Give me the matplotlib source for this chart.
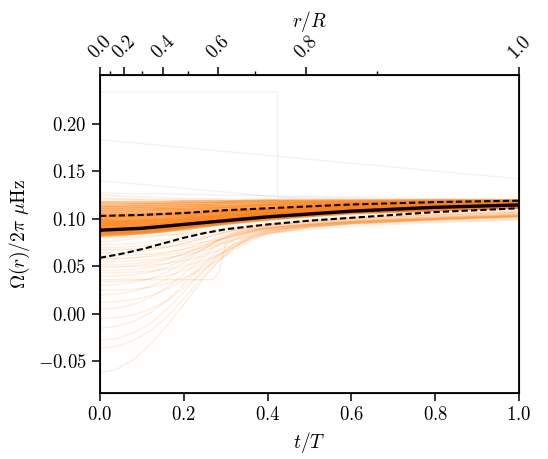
import numpy as np
import matplotlib
matplotlib.use('Agg')
import matplotlib.pyplot as plt

plt.rcParams['font.family'] = 'serif'
plt.rcParams['font.serif'] = ['cmr10']
plt.rcParams['mathtext.fontset'] = 'cm'
plt.rcParams['axes.formatter.use_mathtext'] = True
plt.rcParams['font.size'] = 13

# acoustic radius grid the profiles are sampled on
t_knots = [0.0, 0.05, 0.1, 0.15, 0.2, 0.25, 0.3, 0.4, 0.5, 0.6, 0.8, 1.0]
t_fine = [0.0, 0.04, 0.08, 0.12, 0.16, 0.2, 0.24, 0.28, 0.32, 0.36, 0.4, 0.5, 0.6, 0.8, 1.0]

# posterior sample profiles, Omega/2pi in muHz
core_samples = [
    [.117, .117, .117, .117, .118, .118, .118, .119, .119, .119, .119, .119],
    [.114, .114, .115, .115, .116, .116, .117, .118, .118, .118, .119, .119],
    [.112, .112, .113, .113, .114, .114, .115, .116, .117, .117, .118, .118],
    [.110, .110, .111, .111, .112, .113, .113, .115, .116, .116, .117, .118],
    [.108, .108, .109, .110, .110, .111, .112, .114, .115, .116, .117, .117],
    [.106, .106, .107, .108, .109, .110, .111, .113, .114, .115, .116, .117],
    [.104, .104, .105, .106, .107, .108, .109, .111, .113, .114, .116, .117],
    [.103, .103, .104, .105, .106, .107, .108, .110, .112, .113, .115, .116],
    [.102, .102, .103, .104, .105, .106, .108, .110, .112, .114, .116, .117],
    [.100, .101, .102, .103, .104, .106, .107, .110, .111, .113, .115, .116],
    [.099, .099, .100, .101, .103, .104, .106, .109, .111, .112, .114, .116],
    [.098, .098, .099, .100, .102, .103, .105, .108, .110, .112, .114, .115],
    [.097, .097, .098, .099, .100, .102, .104, .107, .109, .111, .114, .115],
    [.096, .096, .097, .098, .100, .101, .103, .106, .109, .111, .113, .115],
    [.095, .095, .096, .097, .099, .101, .103, .106, .108, .110, .113, .115],
    [.094, .094, .095, .096, .098, .100, .102, .105, .108, .110, .113, .115],
    [.093, .093, .094, .095, .097, .099, .101, .105, .108, .110, .112, .114],
    [.092, .092, .093, .094, .096, .098, .100, .104, .107, .109, .112, .114],
    [.091, .091, .092, .094, .096, .098, .100, .104, .106, .108, .111, .113],
    [.090, .090, .091, .093, .095, .097, .099, .103, .106, .108, .111, .113],
    [.089, .089, .090, .092, .094, .096, .099, .103, .106, .109, .112, .114],
    [.088, .088, .089, .091, .093, .096, .098, .102, .105, .108, .111, .114],
    [.087, .087, .089, .090, .092, .095, .097, .102, .105, .107, .110, .112],
    [.086, .086, .088, .090, .092, .094, .097, .101, .104, .107, .110, .113],
    [.085, .086, .087, .089, .091, .094, .096, .101, .104, .107, .110, .112],
    [.084, .085, .086, .088, .091, .093, .096, .100, .103, .106, .109, .112],
    [.083, .084, .085, .087, .090, .093, .095, .100, .104, .107, .110, .113],
    [.082, .083, .085, .087, .089, .092, .095, .099, .103, .106, .109, .112],
]

faint_high = [
    [.122, .121, .120, .120, .119, .119, .119, .119, .119, .119, .119, .119],
    [.125, .124, .123, .122, .121, .121, .120, .120, .120, .120, .120, .120],
    [.120, .120, .120, .119, .119, .119, .119, .119, .119, .119, .119, .119],
]

low_samples = [
    [.076, .077, .079, .081, .083, .085, .087, .089, .091, .093, .095, .099, .102, .106, .109],
    [.073, .073, .074, .076, .078, .081, .084, .087, .090, .092, .094, .098, .101, .105, .108],
    [.070, .070, .071, .072, .074, .077, .080, .084, .088, .091, .093, .097, .100, .104, .107],
    [.067, .067, .068, .069, .071, .074, .078, .083, .087, .090, .092, .096, .099, .103, .106],
    [.064, .064, .065, .067, .070, .074, .079, .084, .088, .091, .093, .097, .100, .104, .107],
    [.061, .061, .062, .063, .065, .068, .072, .077, .082, .086, .089, .094, .098, .102, .105],
    [.058, .058, .059, .061, .064, .068, .074, .080, .085, .089, .091, .095, .098, .102, .105],
    [.055, .055, .056, .057, .059, .062, .066, .071, .077, .083, .087, .093, .097, .101, .104],
    [.052, .052, .053, .055, .058, .063, .070, .078, .085, .089, .091, .095, .098, .102, .105],
    [.049, .049, .050, .051, .053, .056, .060, .066, .073, .080, .085, .092, .096, .100, .103],
    [.046, .046, .047, .049, .053, .059, .067, .076, .083, .087, .090, .094, .097, .101, .104],
    [.043, .043, .044, .045, .047, .050, .055, .062, .070, .078, .084, .091, .095, .099, .102],
    [.040, .040, .041, .044, .049, .057, .067, .077, .084, .088, .090, .094, .097, .101, .104],
    [.034, .034, .035, .037, .040, .045, .052, .061, .071, .079, .085, .091, .095, .099, .102],
    [.030, .031, .033, .037, .044, .054, .066, .077, .084, .088, .090, .094, .097, .101, .104],
    [.025, .025, .026, .028, .032, .038, .046, .056, .067, .077, .084, .091, .095, .099, .102],
    [.020, .021, .024, .029, .037, .048, .061, .073, .082, .087, .090, .094, .097, .100, .103],
    [.012, .013, .015, .019, .026, .036, .048, .061, .073, .082, .087, .093, .096, .100, .103],
    [.005, .006, .010, .017, .028, .042, .057, .071, .081, .087, .090, .094, .097, .100, .103],
    [-.005, -.004, -.001, .005, .014, .027, .042, .058, .071, .080, .086, .092, .095, .099, .102],
    [-.015, -.013, -.008, .001, .014, .031, .049, .066, .078, .085, .089, .093, .096, .100, .103],
    [-.028, -.026, -.020, -.010, .005, .023, .042, .060, .074, .083, .088, .093, .096, .100, .103],
    [-.036, -.034, -.028, -.018, -.003, .016, .036, .055, .070, .080, .086, .092, .095, .099, .102],
    [-.062, -.058, -.048, -.032, -.012, .010, .033, .054, .070, .081, .087, .093, .096, .100, .103],
    [.068, .068, .068, .069, .070, .072, .075, .078, .082, .085, .088, .092, .095, .098, .100],
    [.058, .058, .059, .060, .062, .065, .069, .073, .078, .082, .085, .089, .092, .096, .099],
    [.080, .080, .081, .082, .083, .084, .085, .086, .088, .089, .091, .094, .096, .099, .101],
    [.050, .050, .051, .053, .057, .063, .070, .077, .083, .087, .089, .092, .094, .097, .099],
]

# one sample with a sharp step
step_t = [0.0, 0.1, 0.2, 0.27, 0.285, 0.3, 0.4, 0.6, 0.8, 1.0]
step_omega = [.036, .036, .036, .036, .045, .075, .093, .100, .104, .107]

# outlying samples (grey)
grey_t = [
    [0.0, 0.424, 0.424, 0.6, 1.0],
    [0.0, 1.0],
    [0.0, 0.424, 1.0],
    [0.0, 0.424, 1.0],
]
grey_omega = [
    [.233, .233, .122, .120, .118],
    [.183, .142],
    [.140, .123, .118],
    [.127, .124, .120],
]

# median and 16/84 percentiles
median = [.088, .089, .090, .092, .094, .096, .098, .102, .105, .108, .112, .1145]
upper = [.103, .1035, .104, .105, .106, .1075, .109, .111, .113, .115, .1175, .119]
lower = [.059, .063, .068, .074, .080, .085, .089, .094, .098, .101, .107, .111]

# r/R ticks on top axis and where they sit in t/T
r_major = [0.0, 0.2, 0.4, 0.6, 0.8, 1.0]
t_of_r_major = [0.0, 0.058, 0.151, 0.281, 0.492, 1.0]
t_of_r_minor = [0.024, 0.100, 0.209, 0.371, 0.662]

fig = plt.figure(figsize=(5.48, 4.59), dpi=100)
ax = fig.add_axes([0.1825, 0.144, 0.7645, 0.6925])

orange = '#ff7f0e'
for g_t, g_o in zip(grey_t, grey_omega):
    ax.plot(g_t, g_o, color='grey', alpha=0.1, lw=1.0)
for s in low_samples:
    ax.plot(t_fine, s, color=orange, alpha=0.13, lw=1.0)
for s in faint_high:
    ax.plot(t_knots, s, color=orange, alpha=0.12, lw=1.2)
ax.plot(step_t, step_omega, color=orange, alpha=0.15, lw=1.0)
for s in core_samples:
    ax.plot(t_knots, s, color=orange, alpha=0.5, lw=2.0)

ax.plot(t_knots, median, color='k', lw=2.4)
ax.plot(t_knots, upper, color='k', lw=1.5, ls=(0, (3, 1.5)))
ax.plot(t_knots, lower, color='k', lw=1.5, ls=(0, (3, 1.5)))

ax.set_xlim(0, 1)
ax.set_ylim(-0.083, 0.251)
ax.set_xticks([0, 0.2, 0.4, 0.6, 0.8, 1.0])
ax.set_yticks([-0.05, 0.0, 0.05, 0.10, 0.15, 0.20])
ax.set_xlabel(r'$t/T$', fontsize=14)
ax.set_ylabel(r'$\Omega(r)/2\pi\ \mu{\rm Hz}$', fontsize=14)
ax.tick_params(length=6, width=1.1, labelsize=13.5)
for sp in ax.spines.values():
    sp.set_linewidth(1.3)

ax2 = ax.twiny()
ax2.set_xlim(0, 1)
ax2.set_xticks(t_of_r_major)
ax2.set_xticklabels(['%.1f' % r for r in r_major], rotation=45)
ax2.set_xticks(t_of_r_minor, minor=True)
ax2.tick_params(which='major', length=6, width=1.1, labelsize=13.5)
ax2.tick_params(which='minor', length=3, width=1.0)
ax2.set_xlabel(r'$r/R$', fontsize=14)

fig.savefig('out.png', dpi=100)
